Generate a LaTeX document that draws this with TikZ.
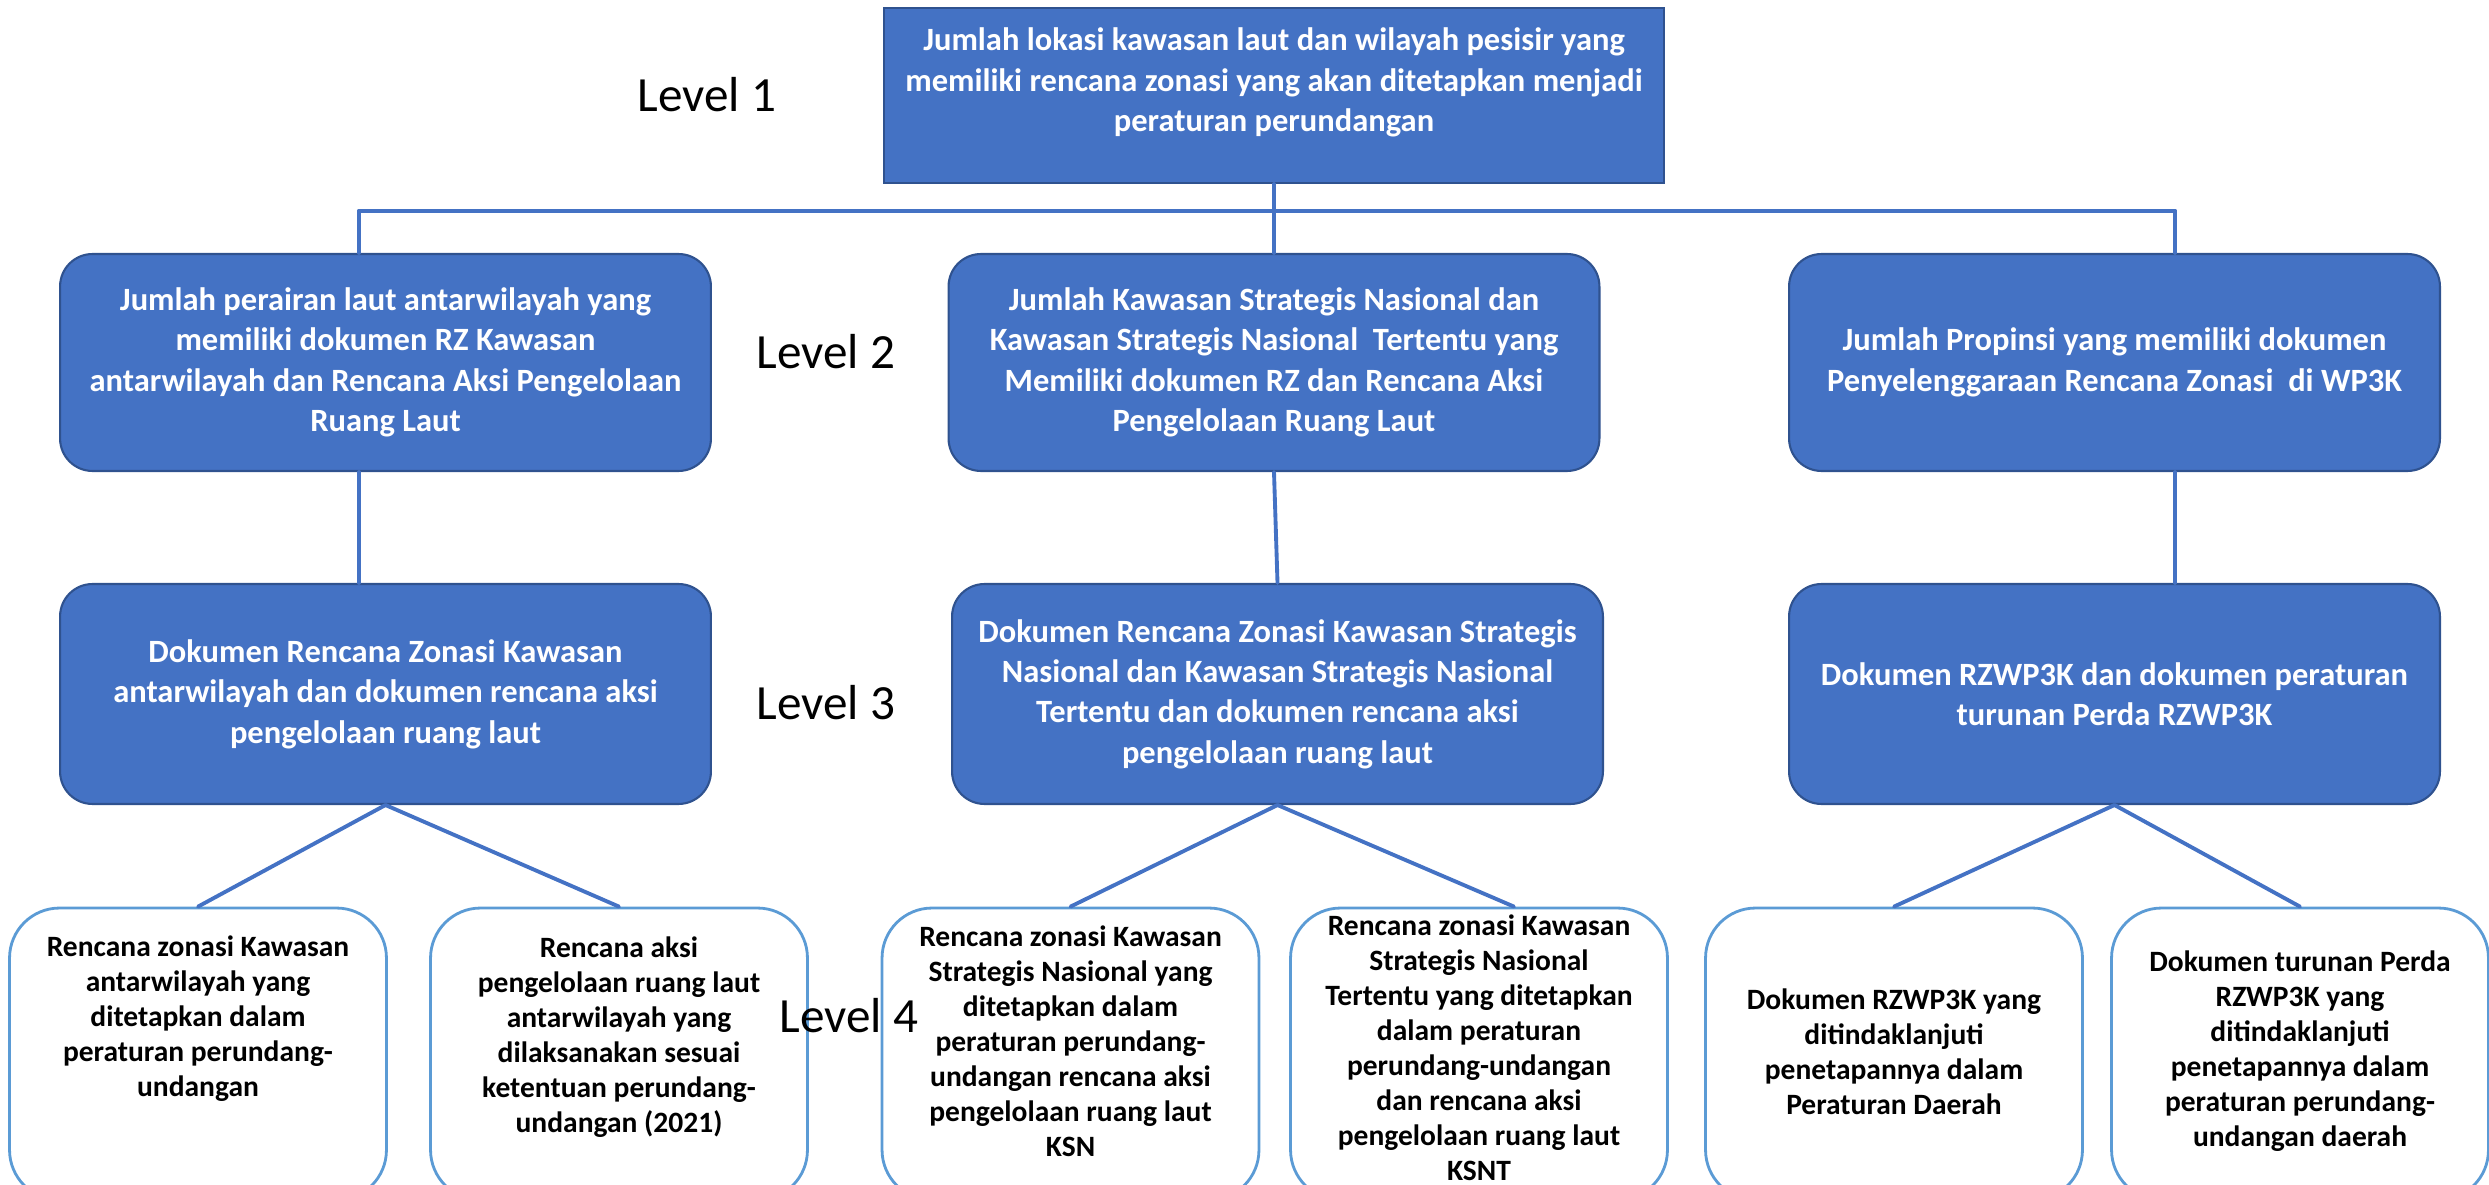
\documentclass[tikz,border=0pt]{standalone}
\usepackage{fontspec}
\setmainfont{Carlito}
\usepackage{tikz}
\definecolor{boxblue}{HTML}{4472C4}
\definecolor{boxedge}{HTML}{2F528F}
\definecolor{leafedge}{HTML}{5B9BD5}

\begin{document}
\begin{tikzpicture}[x=0.02cm,y=-0.02cm,line cap=round,
  conn/.style={draw=boxblue,line width=2.2pt},
  bluebox/.style={draw=boxedge,line width=1.2pt,fill=boxblue,inner sep=0pt},
  whitetext/.style={text=white,align=center,inner sep=0pt,font=\bfseries\fontsize{18.5}{23}\selectfont},
  topbox/.style={bluebox,minimum width=15.6cm,minimum height=3.5cm},
  midbox/.style={bluebox,whitetext,rounded corners=0.65cm,minimum width=13.02cm,minimum height=4.4cm},
  leafbox/.style={draw=leafedge,line width=1.6pt,fill=white,rounded corners=1cm,minimum width=7.54cm,minimum height=5.84cm,inner sep=0pt},
  leaftext/.style={align=center,inner sep=0pt,font=\bfseries\fontsize{16.8}{19.9}\selectfont},
  levellabel/.style={inner sep=0pt,font=\fontsize{28}{34}\selectfont}]
\useasboundingbox (0,0) rectangle (2489,1185);

% level 1
\node[topbox] (top) at (1274,95.5) {};
\node[whitetext] (toptext) at (1274,82.5) {Jumlah lokasi kawasan laut dan wilayah pesisir yang\\memiliki rencana zonasi yang akan ditetapkan menjadi\\peraturan perundangan};

% level 2
\node[midbox,minimum height=4.34cm] (a2) at (385.5,362.5) {Jumlah perairan laut antarwilayah yang\\memiliki dokumen RZ Kawasan\\antarwilayah dan Rencana Aksi Pengelolaan\\Ruang Laut};
\node[midbox,minimum height=4.34cm] (b2) at (1274,362.5) {Jumlah Kawasan Strategis Nasional dan\\Kawasan Strategis Nasional~ Tertentu yang\\Memiliki dokumen RZ dan Rencana Aksi\\Pengelolaan Ruang Laut};
\node[midbox,minimum height=4.34cm] (c2) at (2114.5,362.5) {Jumlah Propinsi yang memiliki dokumen\\Penyelenggaraan Rencana Zonasi~ di WP3K};

% level 3
\node[midbox] (a3) at (385.5,694) {Dokumen Rencana Zonasi Kawasan\\antarwilayah dan dokumen rencana aksi\\pengelolaan ruang laut};
\node[midbox] (b3) at (1277.5,694) {Dokumen Rencana Zonasi Kawasan Strategis\\Nasional dan Kawasan Strategis Nasional\\Tertentu dan dokumen rencana aksi\\pengelolaan ruang laut};
\node[midbox] (c3) at (2114.5,694) {Dokumen RZWP3K dan dokumen peraturan\\turunan Perda RZWP3K};

% level 4
\node[leafbox] (a41) at (198,1054) {};
\node[leafbox] (a42) at (619,1054) {};
\node[leafbox] (b41) at (1070.5,1054) {};
\node[leafbox] (b42) at (1479,1054) {};
\node[leafbox] (c41) at (1894,1054) {};
\node[leafbox] (c42) at (2300,1054) {};
\node[leaftext] (a41t) at (198,1019) {Rencana zonasi Kawasan\\antarwilayah yang\\ditetapkan dalam\\peraturan perundang-\\undangan};
\node[leaftext] (a42t) at (619,1037) {Rencana aksi\\pengelolaan ruang laut\\antarwilayah yang\\dilaksanakan sesuai\\ketentuan perundang-\\undangan (2021)};
\node[leaftext] (b41t) at (1070.5,1041) {Rencana zonasi Kawasan\\Strategis Nasional yang\\ditetapkan dalam\\peraturan perundang-\\undangan rencana aksi\\pengelolaan ruang laut\\KSN};
\node[leaftext] (b42t) at (1479,1048) {Rencana zonasi Kawasan\\Strategis Nasional\\Tertentu yang ditetapkan\\dalam peraturan\\perundang-undangan\\dan rencana aksi\\pengelolaan ruang laut\\KSNT};
\node[leaftext] (c41t) at (1894,1052) {Dokumen RZWP3K yang\\ditindaklanjuti\\penetapannya dalam\\Peraturan Daerah};
\node[leaftext] (c42t) at (2300,1051) {Dokumen turunan Perda\\RZWP3K yang\\ditindaklanjuti\\penetapannya dalam\\peraturan perundang-\\undangan daerah};

% connectors
\coordinate (barL) at (359,211);
\coordinate (barR) at (2175,211);
\draw[conn] (barL) -- (barR);
\draw[conn] (top.south) -- (b2.north);
\draw[conn] (barL) -- (barL |- a2.north);
\draw[conn] (barR) -- (barR |- c2.north);
\draw[conn] (barL |- a2.south) -- (barL |- a3.north);
\draw[conn] (b2.south) -- (b3.north);
\draw[conn] (barR |- c2.south) -- (barR |- c3.north);
\draw[conn] (a3.south) -- (a41.north);
\draw[conn] (a3.south) -- (a42.north);
\draw[conn] (b3.south) -- (b41.north);
\draw[conn] (b3.south) -- ([xshift=0.7cm]b42.north);
\draw[conn] (c3.south) -- (c41.north);
\draw[conn] (c3.south) -- (c42.north);

% level labels
\node[levellabel] (lv1) at (707,95) {Level 1};
\node[levellabel] (lv2) at (826,352) {Level 2};
\node[levellabel] (lv3) at (826,703) {Level 3};
\node[levellabel] (lv4) at (849,1016) {Level 4};
\end{tikzpicture}
\end{document}
